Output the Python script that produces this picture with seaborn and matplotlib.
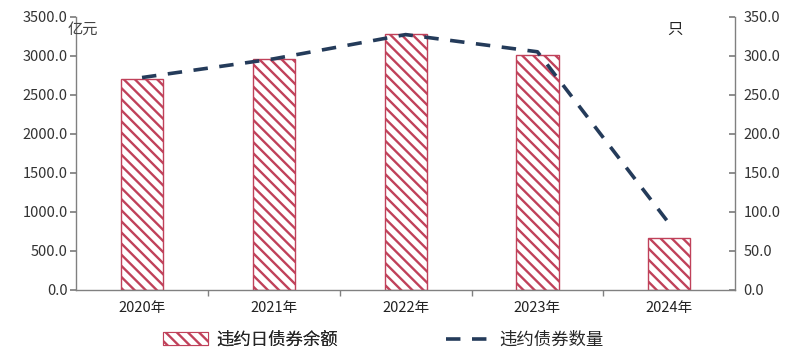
import matplotlib
matplotlib.use("Agg")
import matplotlib.pyplot as plt
import seaborn as sns
import pandas as pd
from matplotlib.patches import Patch
from matplotlib.lines import Line2D
from matplotlib.ticker import FormatStrFormatter, MultipleLocator

years = ["2020年", "2021年", "2022年", "2023年", "2024年"]
default_balance = [2705, 2960, 3280, 3010, 665]   # 亿元
default_count = [272, 296, 327, 305, 85]           # 只

sns.set_theme(style="white")
plt.rcParams["font.family"] = ["Noto Sans CJK SC", "DejaVu Sans"]
plt.rcParams["hatch.color"] = "#A93048"
plt.rcParams["hatch.linewidth"] = 1.7

df = pd.DataFrame({"year": years, "balance": default_balance, "count": default_count})

fig = plt.figure(figsize=(7.93, 3.54), dpi=100)
ax = fig.add_axes([0.096, 0.181, 0.831, 0.772])

sns.barplot(data=df, x="year", y="balance", ax=ax, width=0.32,
            color="white", edgecolor="#C0415A", linewidth=1.0, hatch="\\\\\\")

ax2 = ax.twinx()
ax2.plot(range(len(years)), df["count"], color="#243B5A", lw=2.6,
         linestyle=(0, (4, 3.2)))

ax.set_xlim(-0.5, 4.5)
ax.set_ylim(0, 3500)
ax2.set_ylim(0, 350)
ax.yaxis.set_major_locator(MultipleLocator(500))
ax2.yaxis.set_major_locator(MultipleLocator(50))
ax.yaxis.set_major_formatter(FormatStrFormatter("%.1f"))
ax2.yaxis.set_major_formatter(FormatStrFormatter("%.1f"))
ax.set_xlabel("")
ax.set_ylabel("")

spine_col = "#808080"
for a in (ax, ax2):
    a.spines["top"].set_visible(False)
    for s in ("left", "right", "bottom"):
        a.spines[s].set_color(spine_col)
        a.spines[s].set_linewidth(1.0)
ax.spines["right"].set_visible(False)
ax2.spines["left"].set_visible(False)
ax2.spines["bottom"].set_visible(False)

ax.tick_params(axis="y", direction="out", length=4, color=spine_col,
               labelsize=10.5, labelcolor="#333333", pad=2, left=True)
ax2.tick_params(axis="y", direction="in", length=4, color=spine_col,
                labelsize=10.5, labelcolor="#333333", pad=6, right=True)
# Category labels centered, tick marks at category boundaries
ax.set_xticks(range(len(years)))
ax.set_xticklabels(years)
ax.tick_params(axis="x", length=0, labelsize=10.5, labelcolor="#222222", pad=8)
ax.set_xticks([i + 0.5 for i in range(len(years) - 1)], minor=True)
ax.tick_params(axis="x", which="minor", direction="out", length=4,
               color=spine_col, bottom=True)

fig.text(0.085, 0.905, "亿元", fontsize=11, color="#444444", style="italic")
fig.text(0.842, 0.905, "只", fontsize=11, color="#222222")

bar_handle = Patch(facecolor="white", edgecolor="#C0415A", hatch="\\\\\\", linewidth=0.8)
line_handle = Line2D([0], [0], color="#243B5A", lw=2.6, linestyle=(0, (4, 3.2)))
leg_kw = dict(loc="center left", frameon=False, fontsize=12.5,
              handlelength=2.6, handleheight=0.8, handletextpad=0.5,
              borderpad=0, borderaxespad=0)
leg1 = fig.legend([bar_handle], ["违约日债券余额"],
                  bbox_to_anchor=(0.205, 0.04), **leg_kw)
fig.add_artist(leg1)
fig.legend([line_handle], ["违约债券数量"],
           bbox_to_anchor=(0.562, 0.04), **leg_kw)

fig.savefig("out.png", dpi=100)
